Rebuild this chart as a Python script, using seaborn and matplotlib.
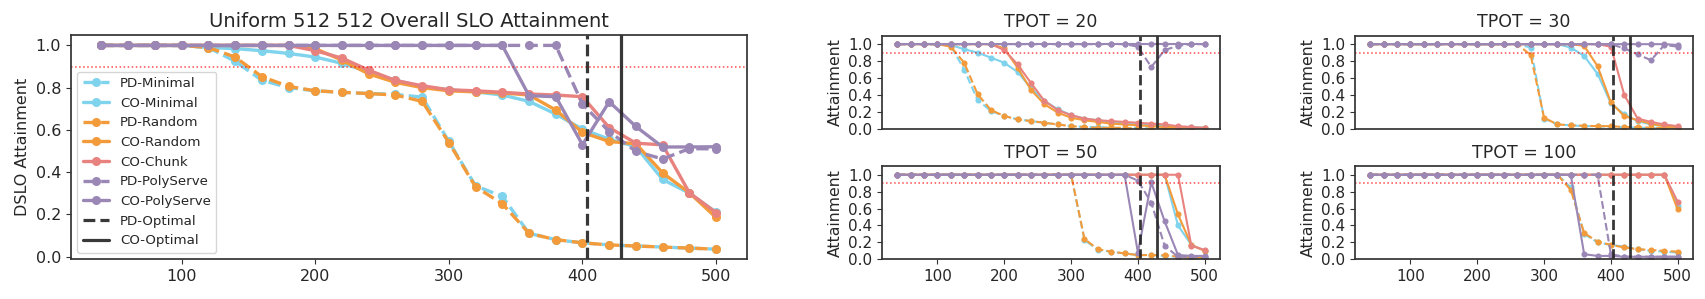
import matplotlib
matplotlib.use("Agg")
import matplotlib.pyplot as plt
import seaborn as sns

# request rates shared by every panel
rates = [40, 60, 80, 100, 120, 140, 160, 180, 200, 220, 240, 260,
         280, 300, 320, 340, 360, 380, 400, 420, 440, 460, 480, 500]

series_names = ["PD-Minimal", "CO-Minimal", "PD-Random", "CO-Random",
                "CO-Chunk", "PD-PolyServe", "CO-PolyServe"]

pd_optimal = 403.5
co_optimal = 428.5
slo_target = 0.9

# overall attainment
overall_pd_minimal = [1.0, 1.0, 1.0, 1.0, 0.99, 0.925, 0.835, 0.80, 0.785, 0.778, 0.772, 0.768,
                      0.755, 0.545, 0.335, 0.285, 0.11, 0.08, 0.065, 0.055, 0.05, 0.045, 0.04, 0.035]
overall_co_minimal = [1.0, 1.0, 1.0, 1.0, 0.99, 0.985, 0.975, 0.962, 0.945, 0.915, 0.875, 0.835,
                      0.805, 0.79, 0.78, 0.765, 0.735, 0.675, 0.603, 0.556, 0.52, 0.365, 0.30, 0.21]
overall_pd_random = [1.0, 1.0, 1.0, 1.0, 0.99, 0.945, 0.852, 0.806, 0.785, 0.778, 0.772, 0.765,
                     0.735, 0.54, 0.33, 0.25, 0.11, 0.08, 0.065, 0.055, 0.05, 0.045, 0.04, 0.035]
overall_co_random = [1.0, 1.0, 1.0, 1.0, 1.0, 1.0, 1.0, 1.0, 0.985, 0.93, 0.865, 0.825,
                     0.80, 0.785, 0.78, 0.775, 0.765, 0.694, 0.588, 0.545, 0.534, 0.396, 0.302, 0.185]
overall_co_chunk = [1.0, 1.0, 1.0, 1.0, 1.0, 1.0, 1.0, 1.0, 0.975, 0.94, 0.883, 0.834,
                    0.809, 0.79, 0.785, 0.778, 0.77, 0.765, 0.757, 0.611, 0.537, 0.529, 0.302, 0.208]
overall_pd_polyserve = [1.0, 1.0, 1.0, 1.0, 1.0, 1.0, 1.0, 1.0, 1.0, 1.0, 1.0, 1.0,
                        1.0, 1.0, 1.0, 1.0, 1.0, 1.0, 0.722, 0.592, 0.498, 0.462, 0.511, 0.51]
overall_co_polyserve = [1.0, 1.0, 1.0, 1.0, 1.0, 1.0, 1.0, 1.0, 1.0, 1.0, 1.0, 1.0,
                        1.0, 1.0, 1.0, 1.0, 0.762, 0.757, 0.53, 0.733, 0.616, 0.519, 0.519, 0.52]

# TPOT = 20
t20_pd_minimal = [1.0, 1.0, 1.0, 1.0, 0.98, 0.70, 0.34, 0.21, 0.15, 0.11, 0.09, 0.07,
                  0.05, 0.03, 0.02, 0.02, 0.01, 0.01, 0.01, 0.0, 0.0, 0.0, 0.0, 0.0]
t20_co_minimal = [1.0, 1.0, 1.0, 1.0, 0.99, 0.94, 0.90, 0.84, 0.78, 0.67, 0.48, 0.33,
                  0.23, 0.16, 0.12, 0.10, 0.08, 0.06, 0.05, 0.04, 0.03, 0.02, 0.02, 0.01]
t20_pd_random = [1.0, 1.0, 1.0, 1.0, 0.97, 0.78, 0.41, 0.22, 0.15, 0.11, 0.09, 0.07,
                 0.05, 0.03, 0.02, 0.01, 0.01, 0.01, 0.0, 0.0, 0.0, 0.0, 0.0, 0.0]
t20_co_random = [1.0, 1.0, 1.0, 1.0, 1.0, 1.0, 1.0, 1.0, 0.95, 0.72, 0.46, 0.29,
                 0.19, 0.13, 0.10, 0.08, 0.06, 0.05, 0.04, 0.03, 0.02, 0.02, 0.01, 0.01]
t20_co_chunk = [1.0, 1.0, 1.0, 1.0, 1.0, 1.0, 1.0, 1.0, 0.93, 0.76, 0.54, 0.33,
                0.22, 0.16, 0.12, 0.10, 0.09, 0.08, 0.07, 0.06, 0.05, 0.03, 0.02, 0.01]
t20_pd_polyserve = [1.0, 1.0, 1.0, 1.0, 1.0, 1.0, 1.0, 1.0, 1.0, 1.0, 1.0, 1.0,
                    1.0, 1.0, 1.0, 1.0, 1.0, 1.0, 0.97, 0.73, 0.93, 0.98, 1.0, 1.0]
t20_co_polyserve = [1.0, 1.0, 1.0, 1.0, 1.0, 1.0, 1.0, 1.0, 1.0, 1.0, 1.0, 1.0,
                    1.0, 1.0, 1.0, 1.0, 1.0, 1.0, 1.0, 1.0, 1.0, 1.0, 1.0, 1.0]

# TPOT = 30
t30_pd_minimal = [1.0, 1.0, 1.0, 1.0, 1.0, 1.0, 1.0, 1.0, 1.0, 1.0, 1.0, 1.0,
                  0.96, 0.12, 0.05, 0.04, 0.03, 0.03, 0.02, 0.02, 0.01, 0.01, 0.0, 0.0]
t30_co_minimal = [1.0, 1.0, 1.0, 1.0, 1.0, 1.0, 1.0, 1.0, 1.0, 1.0, 1.0, 1.0,
                  1.0, 1.0, 1.0, 0.96, 0.86, 0.65, 0.30, 0.17, 0.09, 0.05, 0.03, 0.02]
t30_pd_random = [1.0, 1.0, 1.0, 1.0, 1.0, 1.0, 1.0, 1.0, 1.0, 1.0, 1.0, 1.0,
                 0.87, 0.13, 0.05, 0.04, 0.035, 0.03, 0.03, 0.02, 0.02, 0.01, 0.01, 0.0]
t30_co_random = [1.0, 1.0, 1.0, 1.0, 1.0, 1.0, 1.0, 1.0, 1.0, 1.0, 1.0, 1.0,
                 1.0, 1.0, 1.0, 1.0, 0.98, 0.74, 0.31, 0.15, 0.10, 0.06, 0.03, 0.02]
t30_co_chunk = [1.0, 1.0, 1.0, 1.0, 1.0, 1.0, 1.0, 1.0, 1.0, 1.0, 1.0, 1.0,
                1.0, 1.0, 1.0, 1.0, 1.0, 1.0, 0.97, 0.40, 0.12, 0.08, 0.05, 0.03]
t30_pd_polyserve = [1.0, 1.0, 1.0, 1.0, 1.0, 1.0, 1.0, 1.0, 1.0, 1.0, 1.0, 1.0,
                    1.0, 1.0, 1.0, 1.0, 1.0, 1.0, 1.0, 0.95, 0.88, 0.81, 0.99, 0.97]
t30_co_polyserve = [1.0, 1.0, 1.0, 1.0, 1.0, 1.0, 1.0, 1.0, 1.0, 1.0, 1.0, 1.0,
                    1.0, 1.0, 1.0, 1.0, 1.0, 1.0, 1.0, 1.0, 1.0, 1.0, 1.0, 0.99]

# TPOT = 50
t50_pd_minimal = [1.0, 1.0, 1.0, 1.0, 1.0, 1.0, 1.0, 1.0, 1.0, 1.0, 1.0, 1.0,
                  1.0, 1.0, 0.23, 0.11, 0.09, 0.07, 0.05, 0.05, 0.04, 0.03, 0.02, 0.02]
t50_co_minimal = [1.0, 1.0, 1.0, 1.0, 1.0, 1.0, 1.0, 1.0, 1.0, 1.0, 1.0, 1.0,
                  1.0, 1.0, 1.0, 1.0, 1.0, 1.0, 1.0, 1.0, 1.0, 0.40, 0.17, 0.10]
t50_pd_random = [1.0, 1.0, 1.0, 1.0, 1.0, 1.0, 1.0, 1.0, 1.0, 1.0, 1.0, 1.0,
                 1.0, 1.0, 0.24, 0.12, 0.09, 0.07, 0.05, 0.05, 0.05, 0.03, 0.02, 0.02]
t50_co_random = [1.0, 1.0, 1.0, 1.0, 1.0, 1.0, 1.0, 1.0, 1.0, 1.0, 1.0, 1.0,
                 1.0, 1.0, 1.0, 1.0, 1.0, 1.0, 1.0, 1.0, 1.0, 0.53, 0.17, 0.10]
t50_co_chunk = [1.0, 1.0, 1.0, 1.0, 1.0, 1.0, 1.0, 1.0, 1.0, 1.0, 1.0, 1.0,
                1.0, 1.0, 1.0, 1.0, 1.0, 1.0, 1.0, 1.0, 1.0, 1.0, 0.16, 0.11]
t50_pd_polyserve = [1.0, 1.0, 1.0, 1.0, 1.0, 1.0, 1.0, 1.0, 1.0, 1.0, 1.0, 1.0,
                    1.0, 1.0, 1.0, 1.0, 1.0, 1.0, 0.93, 0.67, 0.16, 0.03, 0.03, 0.03]
t50_co_polyserve = [1.0, 1.0, 1.0, 1.0, 1.0, 1.0, 1.0, 1.0, 1.0, 1.0, 1.0, 1.0,
                    1.0, 1.0, 1.0, 1.0, 1.0, 1.0, 0.08, 0.91, 0.45, 0.05, 0.04, 0.04]

# TPOT = 100
t100_pd_minimal = [1.0, 1.0, 1.0, 1.0, 1.0, 1.0, 1.0, 1.0, 1.0, 1.0, 1.0, 1.0,
                   1.0, 1.0, 1.0, 0.85, 0.30, 0.20, 0.17, 0.15, 0.12, 0.10, 0.09, 0.08]
t100_co_minimal = [1.0, 1.0, 1.0, 1.0, 1.0, 1.0, 1.0, 1.0, 1.0, 1.0, 1.0, 1.0,
                   1.0, 1.0, 1.0, 1.0, 1.0, 1.0, 1.0, 1.0, 1.0, 1.0, 1.0, 0.63]
t100_pd_random = [1.0, 1.0, 1.0, 1.0, 1.0, 1.0, 1.0, 1.0, 1.0, 1.0, 1.0, 1.0,
                  1.0, 1.0, 1.0, 0.82, 0.31, 0.21, 0.17, 0.14, 0.12, 0.11, 0.10, 0.09]
t100_co_random = [1.0, 1.0, 1.0, 1.0, 1.0, 1.0, 1.0, 1.0, 1.0, 1.0, 1.0, 1.0,
                  1.0, 1.0, 1.0, 1.0, 1.0, 1.0, 1.0, 1.0, 1.0, 1.0, 1.0, 0.59]
t100_co_chunk = [1.0, 1.0, 1.0, 1.0, 1.0, 1.0, 1.0, 1.0, 1.0, 1.0, 1.0, 1.0,
                 1.0, 1.0, 1.0, 1.0, 1.0, 1.0, 1.0, 1.0, 1.0, 1.0, 1.0, 0.68]
t100_pd_polyserve = [1.0, 1.0, 1.0, 1.0, 1.0, 1.0, 1.0, 1.0, 1.0, 1.0, 1.0, 1.0,
                     1.0, 1.0, 1.0, 1.0, 1.0, 1.0, 0.06, 0.03, 0.03, 0.03, 0.03, 0.03]
t100_co_polyserve = [1.0, 1.0, 1.0, 1.0, 1.0, 1.0, 1.0, 1.0, 1.0, 1.0, 1.0, 1.0,
                     1.0, 1.0, 1.0, 1.0, 0.06, 0.04, 0.04, 0.03, 0.03, 0.03, 0.03, 0.03]

colors = {"Minimal": "#7fd3ec", "Random": "#f39b3a", "Chunk": "#e8827f", "PolyServe": "#9a87b5"}


def draw_panel(ax, panel, lw, ms, vlw):
    for name, ys in zip(series_names, panel):
        mode, policy = name.split("-")
        sns.lineplot(x=rates, y=ys, ax=ax, color=colors[policy],
                     linestyle="--" if mode == "PD" else "-",
                     marker="o", lw=lw, markersize=ms, markeredgewidth=0,
                     label=name, legend=False)
    ax.axhline(slo_target, color="red", ls=":", lw=1.1, alpha=0.7)
    ax.axvline(pd_optimal, color="#222222", ls="--", lw=vlw, alpha=0.9, label="PD-Optimal")
    ax.axvline(co_optimal, color="#222222", ls="-", lw=vlw, alpha=0.9, label="CO-Optimal")
    ax.set_xlim(17, 523)
    ax.set_xticks([100, 200, 300, 400, 500])
    ax.set_xlabel("")
    for side in ["top", "right"]:
        ax.spines[side].set_visible(True)
    for sp in ax.spines.values():
        sp.set_color("#333333")
        sp.set_linewidth(1.25)


sns.set_style("ticks")
plt.rcParams["font.family"] = ["DejaVu Sans"]

fig = plt.figure(figsize=(17.05, 2.99), dpi=100)

# big overall panel
ax = fig.add_axes([0.0415, 0.1328, 0.3965, 0.7492])
overall = [overall_pd_minimal, overall_co_minimal, overall_pd_random, overall_co_random,
           overall_co_chunk, overall_pd_polyserve, overall_co_polyserve]
draw_panel(ax, overall, lw=2.4, ms=6.5, vlw=2.3)
ax.set_ylim(-0.013, 1.048)
ax.set_yticks([0.0, 0.2, 0.4, 0.6, 0.8, 1.0])
ax.tick_params(labelsize=11.5, length=3.5, color="#333333")
ax.set_ylabel("DSLO Attainment", fontsize=11.5)
ax.set_title("Uniform 512 512 Overall SLO Attainment", fontsize=14)
ax.legend(loc="lower left", fontsize=9.6)

# per-TPOT panels
small = {
    "TPOT = 20": [t20_pd_minimal, t20_co_minimal, t20_pd_random, t20_co_random,
                  t20_co_chunk, t20_pd_polyserve, t20_co_polyserve],
    "TPOT = 30": [t30_pd_minimal, t30_co_minimal, t30_pd_random, t30_co_random,
                  t30_co_chunk, t30_pd_polyserve, t30_co_polyserve],
    "TPOT = 50": [t50_pd_minimal, t50_co_minimal, t50_pd_random, t50_co_random,
                  t50_co_chunk, t50_pd_polyserve, t50_co_polyserve],
    "TPOT = 100": [t100_pd_minimal, t100_co_minimal, t100_pd_random, t100_co_random,
                   t100_co_chunk, t100_pd_polyserve, t100_co_polyserve],
}
boxes = [[0.5173, 0.5696], [0.7947, 0.5696], [0.5173, 0.1328], [0.7947, 0.1328]]

for i, (title, panel) in enumerate(small.items()):
    left, bottom = boxes[i]
    sax = fig.add_axes([left, bottom, 0.1983, 0.311])
    draw_panel(sax, panel, lw=1.5, ms=4.4, vlw=2.0)
    sax.set_ylim(0, 1.1)
    sax.set_yticks([0.0, 0.2, 0.4, 0.6, 0.8, 1.0])
    sax.tick_params(labelsize=11, length=3.5, color="#333333")
    sax.set_ylabel("Attainment", fontsize=11.3)
    sax.set_title(title, fontsize=12.5)
    if i < 2:
        sax.tick_params(axis="x", bottom=False, labelbottom=False)

fig.savefig("out.png", dpi=100)
plt.close(fig)
